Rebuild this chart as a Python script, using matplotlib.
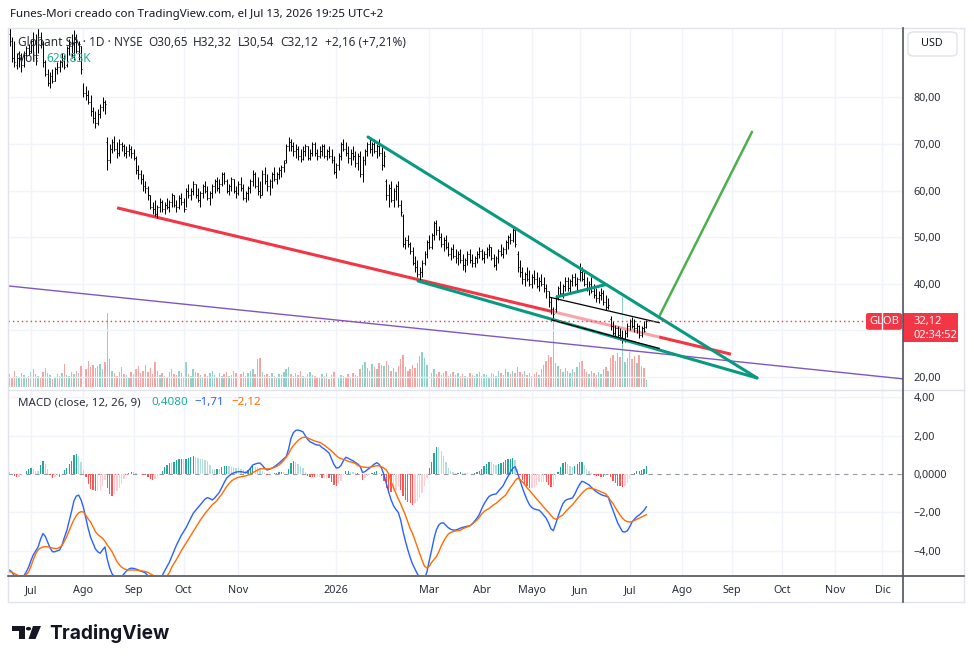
import numpy as np
import matplotlib
matplotlib.use("Agg")
import matplotlib.pyplot as plt
from matplotlib.collections import LineCollection
from matplotlib.patches import FancyBboxPatch, Rectangle, Polygon, Circle

# ---------------- data ----------------
first_bar = -9  # bar index of first visible bar (0 = 1 Jul 2025)

high = [95, 93, 92, 89.5, 90, 89.5, 90, 91, 91.5, 92.5,
        94, 93.5, 95, 94, 92, 88, 86, 85.5, 86, 86.5,
        87.5, 88, 89.5, 89, 91, 92.5, 93.5, 94.5, 93.5, 92,
        91, 83, 82.5, 81.5, 80.5, 78, 77, 77.5, 78.5, 80,
        79.5, 71.5, 70, 71, 71.8, 70.5, 71, 70.5, 70, 69.5,
        70, 69.5, 69, 67.5, 65.5, 64.5, 63.5, 62, 61, 59,
        57.5, 58, 57, 58.5, 58, 57.5, 58.5, 58, 59.5, 59,
        58, 59, 59.5, 58.5, 60.5, 61.5, 60.5, 62, 61.5, 60.5,
        60, 61.5, 62, 61, 60, 61.5, 62.5, 63, 62.5, 64,
        64, 62.5, 61.5, 63, 62.5, 61, 62, 63, 61.5, 60,
        61, 62.5, 64.5, 64, 63, 62, 64.5, 65, 63.5, 62.5,
        64, 65, 64, 65, 65.5, 66.5, 70, 71.6, 71, 70.5,
        70, 69.5, 69, 69.5, 70, 69.5, 69, 70.5, 70.5, 69,
        69.5, 70, 70, 69, 69.5, 69, 67.5, 66, 68, 70.5,
        71, 70.5, 69.5, 69, 69.5, 68.5, 68, 68.5, 67.5, 69,
        70.5, 71.5, 70.5, 71, 70, 71, 69.5, 68.5, 62.5, 61.5,
        62, 60.5, 61.5, 62, 58, 55, 50, 50.5, 49, 48,
        46, 45, 43.5, 45, 47, 49.5, 50.5, 51, 53.5, 53.7,
        52.5, 51, 50, 50.5, 49, 48, 48.5, 47.5, 47, 47.5,
        46.5, 45.5, 47, 47.5, 46.5, 46, 47, 48, 47.5, 47,
        48, 48.5, 48, 46.5, 46, 47.5, 48.5, 48, 49.5, 50.5,
        51, 52, 51.5, 47, 45, 43.5, 42.5, 43.5, 43, 42,
        43, 42.5, 41.5, 42, 41.5, 40, 38.5, 37.2, 35, 37.5,
        39.5, 40.5, 40, 41.5, 41.5, 41, 42, 42.3, 41.5, 44.5,
        43.5, 42.5, 41.5, 40.5, 41.5, 40, 39, 38.5, 39, 38.7,
        37.5, 37, 33, 32, 31.2, 31, 30.5, 30, 30.1, 31.5,
        32.5, 32.9, 32.5, 31.5, 31.2, 31, 32, 32.32]

low = [91, 87.5, 86.5, 86, 86.5, 85.5, 86.5, 88, 89, 89.5,
       88, 87, 89.5, 90.5, 86.5, 84.5, 82.5, 82, 83, 83.5,
       85, 85.5, 86.5, 86, 86.5, 89, 88.5, 88, 89.5, 88,
       85, 80, 79.5, 78.5, 76, 74.5, 73.5, 74, 75.5, 77,
       76.5, 64.5, 66, 68, 68.5, 67, 67.5, 68.5, 67.5, 67,
       67.5, 67, 66.5, 63.5, 62.5, 61.5, 60, 59.5, 58, 56,
       55, 54.5, 54.2, 55.5, 55.5, 55, 56, 55.5, 56.5, 56.5,
       55.5, 56, 57, 55.5, 56.5, 58.5, 58, 59, 58.5, 57.5,
       56.5, 58.5, 59.5, 58, 57, 58.5, 59.5, 60, 59.5, 61,
       61.5, 59.5, 59, 60, 59.5, 58.5, 59, 60, 58, 57.5,
       58, 59.5, 61, 60.5, 59, 58.5, 59, 61.5, 60, 59,
       60.5, 62, 61.5, 62.5, 63, 64, 66, 68.5, 68.5, 67.5,
       67, 66.5, 66.2, 66.5, 67.5, 66.5, 66.5, 67.5, 67.5, 66.5,
       67, 67.5, 67, 66.5, 67, 66, 63.5, 62.7, 64.5, 66.5,
       68.5, 67.5, 66, 65.5, 66.5, 65, 64.5, 63, 61.8, 65.5,
       67.5, 68, 67.5, 68, 67, 67.5, 64.5, 65, 58, 56.5,
       57.5, 56.5, 58, 56.5, 54.5, 47.8, 47.5, 48, 46.5, 44,
       42.5, 41.5, 40.4, 41.5, 44, 45.5, 47.5, 47.5, 49.5, 50.5,
       49.5, 48, 47, 47.5, 46, 45, 45.5, 44.5, 44, 44.5,
       43, 42.5, 44, 44.5, 43.5, 43.5, 44.5, 45.5, 45, 44.5,
       45.5, 46, 45, 43.5, 43, 44.5, 46, 45.5, 46.5, 47.5,
       48.5, 49, 48, 42.5, 41.5, 40, 39.5, 40.5, 39.5, 39,
       40, 39, 38.5, 39.5, 38.2, 37, 35, 33.5, 32.2, 34,
       36.5, 37.5, 37, 38.5, 38.5, 38, 39.5, 39.5, 38.5, 40.5,
       40.5, 39.5, 38.5, 37.5, 38, 37, 36, 35.9, 36.5, 35.5,
       34.4, 34.5, 30, 29, 28.5, 28.5, 27.9, 27.3, 27.5, 28.5,
       30, 30.5, 29.7, 29.5, 28.4, 28.5, 29.7, 30.54]

close = [92.5, 88.5, 87.5, 88.5, 89, 87, 89.5, 90.5, 89.5, 92,
         89, 88.5, 93, 91.5, 87.5, 85, 83, 84.5, 83.5, 86,
         86.5, 87.5, 88.5, 86.5, 90.5, 91, 89, 92.5, 90, 91.5,
         86, 81, 80.5, 79, 77, 75.5, 74.5, 76.5, 78, 79,
         78.5, 66.5, 69, 70.5, 69, 68, 70, 69.5, 68, 68.5,
         69, 68, 67, 64.5, 63.5, 62.5, 61, 60.5, 59, 56.5,
         56, 55, 56.5, 57.5, 56, 57, 56.5, 57.5, 59, 57,
         56.5, 58.5, 57.5, 56, 60, 59, 60, 61.5, 59, 58,
         59.5, 61, 60, 58.5, 59.5, 61, 62, 60.5, 61.5, 63.5,
         62, 60, 61, 62.5, 60, 59.5, 61.5, 60.5, 58.5, 59.5,
         60.5, 62, 63.5, 61, 60, 59, 63.5, 62, 61, 62,
         63.5, 62.5, 63.5, 64.5, 65, 66, 69.5, 70.5, 69.5, 68.5,
         69, 67.5, 66.8, 68.5, 69.5, 67, 68, 70, 68, 67.5,
         68.5, 69.5, 67.5, 68.5, 67.5, 66.5, 64, 65.5, 67.5, 70,
         69, 68, 67, 68, 67.5, 66, 67.5, 63.5, 66.5, 68.5,
         70, 69, 70, 68.5, 69.5, 68, 65.5, 67.5, 59, 60.5,
         58, 60, 61, 57, 55.5, 48.5, 49.5, 48.5, 47, 44.5,
         43.5, 42, 42.5, 44.5, 46.5, 49, 48, 50.5, 53, 51.5,
         50, 48.5, 49.5, 48, 46.5, 47.5, 46, 45.5, 46.5, 45,
         44, 45, 46.5, 45, 44.5, 45.5, 46.5, 47, 45.5, 46.5,
         47.5, 48, 45.5, 44, 45.5, 47, 46.5, 47.5, 49, 50,
         49.5, 51.5, 48.5, 43.5, 42.5, 41, 42, 41, 40, 41.5,
         41, 39.5, 40.5, 40, 39, 38.5, 36, 34.5, 33.5, 37,
         39, 38, 39.5, 40.5, 39, 40.5, 41.5, 40, 41, 42.5,
         41, 40, 39, 40, 38.5, 37.5, 37, 37.5, 38, 36,
         35, 35.5, 31, 29.5, 30.5, 29, 28.5, 28, 29.5, 31,
         32, 31, 30.5, 31, 29, 30.5, 29.96, 32.12]

opens = [93.5, 92, 88.5, 87, 88.5, 89, 87, 89, 90.5, 90,
         92, 89, 89, 93, 91.5, 87.5, 85, 83, 84.5, 83.5,
         86, 86.5, 87.5, 88.5, 87, 90.5, 91, 89, 92.5, 90,
         91, 82.5, 81, 80.5, 79, 77, 75.5, 74.5, 76.5, 78,
         79, 70.5, 66.5, 69, 70.5, 69, 68, 70, 69.5, 68,
         68.5, 69, 68, 67, 64.5, 63.5, 62.5, 61, 60.5, 59,
         56.5, 56, 55, 56.5, 57.5, 56, 57, 56.5, 57.5, 59,
         57, 56.5, 58.5, 57.5, 56, 60, 59, 60, 61.5, 59,
         58, 59.5, 61, 60, 58.5, 59.5, 61, 62, 60.5, 61.5,
         63.5, 62, 60, 61, 62.5, 60, 59.5, 61.5, 60.5, 58.5,
         59.5, 60.5, 62, 63.5, 61, 60, 59, 63.5, 62, 61,
         62, 63.5, 62.5, 63.5, 64.5, 65, 66.5, 69.5, 70.5, 69.5,
         68.5, 69, 67.5, 66.8, 68.5, 69.5, 67, 68, 70, 68,
         67.5, 68.5, 69.5, 67.5, 68.5, 67.5, 66.5, 64, 65.5, 67.5,
         70, 69, 68, 67, 68, 67.5, 66, 67.5, 63.5, 66.5,
         68.5, 70, 69, 70, 68.5, 69.5, 68, 65.5, 62, 59,
         60.5, 58, 60, 61, 57, 54.5, 48.5, 49.5, 48.5, 47,
         44.5, 43.5, 42, 42.5, 44.5, 46.5, 49, 48, 50.5, 53,
         51.5, 50, 48.5, 49.5, 48, 46.5, 47.5, 46, 45.5, 46.5,
         45, 44, 45, 46.5, 45, 44.5, 45.5, 46.5, 47, 45.5,
         46.5, 47.5, 48, 45.5, 44, 45.5, 47, 46.5, 47.5, 49,
         50, 49.5, 51.5, 46.5, 43.5, 42.5, 41, 42, 41, 40,
         41.5, 41, 39.5, 40.5, 40, 39, 38.5, 36, 32.6, 34.5,
         37, 39, 38, 39.5, 40.5, 39, 40.5, 41.5, 40, 41,
         42.5, 41, 40, 39, 40, 38.5, 37.5, 37, 37.5, 38,
         36, 35, 32.5, 31, 29.5, 30.5, 29, 27.5, 28, 29.5,
         31, 32, 31, 30.5, 31, 29, 30.5, 30.65]

volume_m = [1.2, 0.9, 1.5, 1.0, 0.8, 1.3, 1.1, 0.9, 1.0, 1.4,
            1.6, 1.2, 1.0, 0.9, 1.4, 1.7, 1.3, 1.1, 0.7, 0.9,
            1.2, 1.0, 1.3, 2.1, 1.1, 1.0, 1.4, 1.2, 1.5, 1.3,
            1.9, 2.2, 1.6, 2.4, 1.8, 2.0, 1.7, 1.9, 2.1, 1.6,
            2.3, 6.7, 2.5, 1.5, 1.3, 1.0, 1.4, 1.8, 1.2, 1.1,
            0.9, 1.4, 1.2, 1.6, 1.9, 1.3, 1.5, 2.0, 1.4, 1.7,
            1.2, 2.3, 1.5, 1.1, 1.3, 1.0, 0.9, 1.4, 1.6, 1.2,
            1.1, 1.5, 1.3, 0.9, 2.3, 1.2, 1.0, 1.6, 1.4, 1.3,
            1.1, 0.9, 1.2, 1.0, 1.3, 1.5, 1.1, 0.9, 1.3, 1.0,
            1.2, 1.4, 1.0, 1.1, 1.5, 1.3, 1.0, 1.2, 1.4, 1.0,
            1.3, 1.5, 1.6, 1.2, 2.5, 2.6, 1.4, 1.1, 1.2, 1.0,
            1.3, 1.0, 0.9, 1.2, 1.1, 1.4, 1.6, 1.8, 1.2, 1.0,
            1.3, 1.1, 1.5, 1.0, 0.9, 1.2, 1.4, 1.1, 1.0, 0.8,
            0.9, 1.2, 1.0, 1.3, 0.7, 1.1, 1.4, 1.2, 0.9, 1.1,
            1.0, 0.8, 1.2, 0.9, 1.3, 1.1, 1.0, 1.6, 2.0, 2.3,
            1.7, 1.5, 2.1, 1.8, 1.6, 2.2, 2.0, 1.9, 2.4, 2.0,
            1.5, 1.7, 1.4, 1.9, 2.5, 2.9, 1.8, 1.5, 1.6, 2.0,
            1.7, 2.2, 2.8, 3.2, 2.6, 2.0, 1.5, 1.3, 1.6, 1.2,
            1.4, 1.1, 1.3, 1.5, 1.0, 1.2, 1.4, 1.1, 1.3, 1.0,
            1.2, 1.0, 0.9, 1.3, 1.1, 1.0, 1.2, 1.4, 1.0, 1.2,
            1.1, 0.9, 1.3, 1.2, 1.0, 1.5, 1.3, 1.1, 1.6, 1.4,
            1.2, 1.5, 1.3, 1.8, 1.4, 1.2, 1.5, 1.1, 1.3, 1.0,
            1.2, 1.4, 1.1, 1.6, 2.0, 2.4, 2.9, 2.7, 6.0, 2.2,
            1.9, 1.6, 1.4, 1.7, 1.5, 1.3, 1.6, 1.4, 1.8, 2.3,
            2.4, 1.6, 1.4, 1.2, 1.5, 1.3, 1.1, 1.4, 1.2, 1.6,
            1.8, 1.5, 2.6, 2.9, 2.4, 3.1, 2.7, 8.1, 2.3, 2.6,
            3.2, 2.5, 2.8, 2.2, 2.9, 1.9, 1.7, 0.63]

macd_line = [-5.0, -5.1, -5.3, -5.4, -5.45, -5.45, -5.3, -5.1, -4.85, -4.5,
             -4.2, -4.0, -3.8, -3.4, -3.1, -3.25, -3.55, -3.85, -4.05, -4.05,
             -4.0, -3.96, -3.7, -3.3, -2.95, -2.45, -1.95, -1.4, -1.15, -1.1,
             -1.35, -1.75, -2.3, -2.85, -3.3, -3.6, -3.9, -4.05, -4.13, -3.95,
             -3.8, -4.45, -4.9, -5.2, -5.35, -5.45, -5.45, -5.35, -5.2, -5.05,
             -4.95, -4.9, -4.92, -4.95, -5.0, -5.05, -5.1, -5.15, -5.3, -5.45,
             -5.55, -5.6, -5.6, -5.5, -5.3, -5.05, -4.82, -4.6, -4.3, -4.0,
             -3.7, -3.45, -3.2, -3.0, -2.8, -2.55, -2.3, -2.05, -1.9, -1.75,
             -1.6, -1.45, -1.3, -1.23, -1.28, -1.35, -1.25, -1.1, -0.95, -0.7,
             -0.45, -0.22, -0.1, 0.0, 0.06, 0.1, 0.12, 0.12, 0.1, 0.06,
             0.15, 0.3, 0.47, 0.52, 0.56, 0.57, 0.45, 0.3, 0.21, 0.25,
             0.3, 0.38, 0.47, 0.57, 0.68, 0.8, 0.9, 1.3, 1.85, 2.15,
             2.27, 2.29, 2.25, 2.2, 2.0, 1.8, 1.68, 1.62, 1.55, 1.51,
             1.5, 1.38, 1.3, 1.2, 1.09, 0.8, 0.5, 0.31, 0.33, 0.45,
             0.7, 0.87, 0.82, 0.75, 0.69, 0.6, 0.52, 0.4, 0.08, 0.12,
             0.22, 0.31, 0.42, 0.52, 0.59, 0.5, 0.3, -0.05, -0.5, -0.95,
             -1.35, -1.65, -1.85, -2.0, -2.4, -3.0, -3.5, -3.95, -4.35, -4.7,
             -4.95, -5.2, -5.4, -5.5, -5.45, -5.1, -4.5, -3.95, -3.35, -2.9,
             -2.65, -2.55, -2.55, -2.68, -2.8, -2.88, -2.92, -2.92, -2.88, -2.82,
             -2.78, -2.75, -2.72, -2.7, -2.6, -2.45, -2.3, -2.1, -1.8, -1.55,
             -1.35, -1.17, -1.1, -1.06, -1.04, -0.9, -0.75, -0.6, -0.35, -0.12,
             0.1, 0.3, 0.38, 0.05, -0.31, -0.7, -1.05, -1.35, -1.6, -1.75,
             -1.82, -1.86, -1.88, -2.0, -2.15, -2.3, -2.55, -2.85, -2.95, -2.6,
             -2.2, -1.85, -1.55, -1.38, -1.32, -1.28, -1.25, -1.05, -0.78, -0.55,
             -0.38, -0.42, -0.5, -0.57, -0.7, -0.82, -0.92, -1.0, -1.07, -1.12,
             -1.15, -1.2, -1.55, -1.88, -2.2, -2.55, -2.78, -3.0, -3.02, -2.96,
             -2.75, -2.5, -2.35, -2.22, -2.14, -2.02, -1.9, -1.71]

signal_line = [-5.08, -5.12, -5.18, -5.25, -5.3, -5.32, -5.3, -5.25, -5.1, -4.8,
               -4.45, -4.15, -3.95, -3.85, -3.8, -3.78, -3.79, -3.82, -3.86, -3.88,
               -3.88, -3.82, -3.72, -3.5, -3.25, -2.95, -2.65, -2.38, -2.17, -2.02,
               -1.96, -1.98, -2.15, -2.35, -2.5, -2.75, -3.0, -3.15, -3.25, -3.35,
               -3.5, -3.7, -3.87, -4.05, -4.3, -4.55, -4.72, -4.85, -4.93, -4.98,
               -5.0, -5.0, -5.0, -5.0, -5.02, -5.04, -5.06, -5.08, -5.12, -5.2,
               -5.26, -5.35, -5.4, -5.45, -5.45, -5.4, -5.3, -5.15, -4.85, -4.65,
               -4.45, -4.22, -4.0, -3.8, -3.6, -3.4, -3.2, -3.0, -2.8, -2.6,
               -2.4, -2.22, -2.05, -1.9, -1.75, -1.6, -1.5, -1.38, -1.2, -1.05,
               -0.85, -0.66, -0.5, -0.37, -0.28, -0.22, -0.17, -0.15, -0.12, -0.1,
               -0.06, 0.0, 0.07, 0.14, 0.2, 0.26, 0.28, 0.27, 0.26, 0.27,
               0.3, 0.34, 0.4, 0.47, 0.58, 0.72, 0.88, 1.05, 1.3, 1.48,
               1.62, 1.75, 1.85, 1.9, 1.92, 1.88, 1.82, 1.77, 1.72, 1.68,
               1.65, 1.58, 1.5, 1.4, 1.3, 1.2, 1.08, 0.96, 0.85, 0.8,
               0.76, 0.72, 0.66, 0.63, 0.6, 0.55, 0.45, 0.4, 0.37, 0.35,
               0.34, 0.35, 0.38, 0.41, 0.43, 0.43, 0.38, 0.3, 0.21, 0.0,
               -0.4, -0.7, -1.0, -1.3, -1.55, -1.85, -2.15, -2.5, -2.85, -3.1,
               -3.45, -3.8, -4.15, -4.5, -4.8, -4.9, -4.8, -4.6, -4.45, -4.3,
               -4.05, -3.75, -3.5, -3.3, -3.12, -3.05, -3.0, -2.97, -2.95, -2.93,
               -2.85, -2.8, -2.75, -2.7, -2.6, -2.5, -2.4, -2.25, -2.08, -1.95,
               -1.87, -1.8, -1.7, -1.6, -1.53, -1.42, -1.3, -1.2, -1.1, -0.9,
               -0.7, -0.55, -0.35, -0.22, -0.28, -0.4, -0.55, -0.72, -0.85, -1.0,
               -1.15, -1.3, -1.44, -1.58, -1.73, -1.87, -2.0, -2.15, -2.3, -2.36,
               -2.3, -2.2, -2.14, -1.98, -1.85, -1.72, -1.61, -1.45, -1.3, -1.15,
               -1.0, -0.88, -0.78, -0.73, -0.75, -0.78, -0.82, -0.87, -0.93, -0.98,
               -1.04, -1.2, -1.38, -1.53, -1.75, -1.95, -2.14, -2.3, -2.42, -2.48,
               -2.5, -2.48, -2.42, -2.36, -2.3, -2.24, -2.18, -2.12]

month_bars = [0, 22, 43, 64, 87, 128, 167, 189, 210, 230, 251, 273, 294, 315, 337, 357]
month_labels = ["Jul", "Ago", "Sep", "Oct", "Nov", "2026", "Mar", "Abr", "Mayo",
                "Jun", "Jul", "Ago", "Sep", "Oct", "Nov", "Dic"]

price_ticks = [20, 40, 50, 60, 70, 80]
price_grid = [20, 30, 40, 50, 60, 70, 80]
macd_ticks = [4, 2, 0, -2, -4]
macd_tick_labels = ["4,00", "2,00", "0,0000", "\u22122,00", "\u22124,00"]
last_close = 32.12

# drawings: (bar index, price) anchors
red_trend = [(36.1, 56.3), (293.5, 24.9)]
wedge_upper = [(141.3, 71.5), (304.4, 19.8)]
wedge_lower = [(162.3, 40.6), (304.4, 19.8)]
flag_line = [(220.5, 37.2), (241.1, 39.85)]
channel_upper = [(217.6, 37.1), (263.4, 31.65)]
channel_lower = [(218.3, 32.25), (263.4, 26.15)]
projection = [(263.7, 33.3), (302.3, 72.6)]
purple_line = [(-9.64, 39.55), (365.6, 19.6)]

# ---------------- figure ----------------
W, H = 974, 663
plt.rcParams['font.family'] = ['Noto Sans', 'DejaVu Sans']
fig = plt.figure(figsize=(W / 100, H / 100), dpi=100)
fig.patch.set_facecolor('white')

TXT = '#131722'
GRID = '#f0f3fa'


def px_axes(l, t, r, b):
    return fig.add_axes([l / W, 1 - b / H, (r - l) / W, (b - t) / H])


def ftext(x, y, s, **kw):
    kw.setdefault('va', 'center')
    return fig.text(x / W, 1 - y / H, s, **kw)


XLIM = ((8 - 31) / 2.385, (903 - 31) / 2.385)
ax = px_axes(8, 28, 903, 390)
axm = px_axes(8, 390, 903, 575)
for a in (ax, axm):
    a.set_xlim(*XLIM)
    a.set_facecolor('none')
    for s in a.spines.values():
        s.set_visible(False)
    for xb in month_bars:
        a.axvline(xb, color=GRID, lw=1, zorder=0)

ax.set_ylim(17.21, 94.89)
axm.set_ylim(-5.26, 4.375)

idx = np.arange(first_bar, first_bar + len(close))
o = np.array(opens); h = np.array(high); l = np.array(low); c = np.array(close)

for g in price_grid:
    ax.axhline(g, color=GRID, lw=1, zorder=0)

# volume on twin axis
axv = ax.twinx()
axv.set_ylim(-0.25, 32.35)
axv.set_xlim(*XLIM)
axv.axis('off')
up = c >= o
vcol = np.where(up, '#8fd1c6', '#f6a3a2')
axv.bar(idx, volume_m, width=0.6, color=vcol, linewidth=0, zorder=1)

# red trend line (under the channel fill)
ax.plot(*zip(*red_trend), color='#f23645', lw=2.2, zorder=2, solid_capstyle='butt')
# channel translucent fill
chan = Polygon([channel_upper[0], channel_upper[1], channel_lower[1], channel_lower[0]],
               closed=True, facecolor='white', alpha=0.55, edgecolor='none', zorder=2.5)
ax.add_patch(chan)
ax.set_zorder(axv.get_zorder() + 1)
ax.patch.set_visible(False)

# OHLC bars
segs = []
for i in range(len(c)):
    x = idx[i]
    segs.append([(x, l[i]), (x, h[i])])
    segs.append([(x - 0.4, o[i]), (x, o[i])])
    segs.append([(x, c[i]), (x + 0.4, c[i])])
ax.add_collection(LineCollection(segs, colors='#000000', linewidths=0.72, zorder=4))

# drawings
ax.plot(*zip(*purple_line), color='#7e57c2', lw=1.0, zorder=3)
ax.plot(*zip(*wedge_upper), color='#089981', lw=2.2, zorder=5, solid_capstyle='round')
ax.plot(*zip(*wedge_lower), color='#089981', lw=2.2, zorder=5, solid_capstyle='round')
ax.plot(*zip(*flag_line), color='#089981', lw=2.2, zorder=5, solid_capstyle='round')
ax.plot(*zip(*channel_upper), color='#000000', lw=0.9, zorder=5)
ax.plot(*zip(*channel_lower), color='#000000', lw=0.9, zorder=5)
ax.plot(*zip(*projection), color='#4caf50', lw=1.8, zorder=5, solid_capstyle='round')
ax.axhline(last_close, color='#f23645', lw=1.0, ls=(0, (1, 2.2)), zorder=5)

# right price scale
ax.yaxis.tick_right()
ax.set_yticks(price_ticks)
ax.set_yticklabels([f"{v:.2f}".replace('.', ',') for v in price_ticks])
ax.tick_params(axis='y', length=0, pad=7.5, labelsize=7.8, labelcolor='#2a2e39')
ax.tick_params(axis='x', bottom=False, labelbottom=False)

# MACD pane
m = np.array(macd_line); sg = np.array(signal_line)
hist = m - sg
prev = np.concatenate([[hist[0]], hist[:-1]])
hcol = np.where(hist >= 0, np.where(hist > prev, '#26a69a', '#b2dfdb'),
                np.where(hist < prev, '#ff5252', '#ffcdd2'))
for g in [4, 2, -2, -4]:
    axm.axhline(g, color=GRID, lw=1, zorder=0)
axm.axhline(0, color='#9598a1', lw=0.8, ls=(0, (4, 4)), zorder=1)
axm.bar(idx, hist, width=0.55, color=hcol, linewidth=0, zorder=2)
axm.plot(idx, m, color='#2962ff', lw=1.0, zorder=3)
axm.plot(idx, sg, color='#ff6d00', lw=1.0, zorder=3)
axm.yaxis.tick_right()
axm.set_yticks(macd_ticks)
axm.set_yticklabels(macd_tick_labels)
axm.tick_params(axis='y', length=0, pad=7.5, labelsize=7.8, labelcolor='#2a2e39')
axm.set_xticks(month_bars)
axm.set_xticklabels(month_labels)
axm.tick_params(axis='x', length=0, pad=7, labelsize=7.8, labelcolor='#2a2e39')
for t in axm.get_xticklabels():
    if t.get_text() == '2026':
        t.set_fontweight('bold')

# frame / separators (figure-level lines)
def hline(y, x0, x1, color, lw=1):
    fig.add_artist(plt.Line2D([x0 / W, x1 / W], [1 - y / H, 1 - y / H], color=color, lw=lw))

def vline(x, y0, y1, color, lw=1):
    fig.add_artist(plt.Line2D([x / W, x / W], [1 - y0 / H, 1 - y1 / H], color=color, lw=lw))

hline(27.5, 8, 964, '#e0e3eb')
hline(601.5, 8, 964, '#e0e3eb')
vline(8, 27.5, 601.5, '#e0e3eb')
vline(964, 27.5, 601.5, '#e0e3eb')
hline(389.5, 8, 964, '#e0e3eb')
hline(575.5, 8, 964, '#50535e', lw=1.2)
vline(903, 27.5, 601.5, '#50535e', lw=1.2)

# USD box
fig.add_artist(FancyBboxPatch((908 / W, 1 - 56 / H), 49 / W, 24 / H,
                              boxstyle='round,pad=0,rounding_size=0.006',
                              transform=fig.transFigure, facecolor='white',
                              edgecolor='#e0e3eb', lw=1))
ftext(932, 44, 'USD', ha='center', fontsize=7.8, color=TXT)

# last-price labels
fig.add_artist(FancyBboxPatch((866 / W, 1 - 330 / H), 36 / W, 17 / H,
                              boxstyle='round,pad=0,rounding_size=0.003',
                              transform=fig.transFigure, facecolor='#f23645',
                              edgecolor='none'))
ftext(884, 321.5, 'GLOB', ha='center', fontsize=8.0, color='white', fontweight='bold')
fig.add_artist(Rectangle((903 / W, 1 - 342 / H), 55 / W, 29 / H,
                         transform=fig.transFigure, facecolor='#f23645', edgecolor='none'))
ftext(913, 321, '32,12', ha='left', fontsize=8.0, color='white', fontweight='bold')
ftext(913, 335, '02:34:52', ha='left', fontsize=8.0, color='white')

# header texts
ftext(10, 14, 'Funes-Mori creado con TradingView.com, el Jul 13, 2026 19:25 UTC+2',
      fontsize=8.3, color=TXT)
ftext(18, 42, 'Globant SA \u00b7 1D \u00b7 NYSE', fontsize=8.5, color='#2a2e39')
for xx, s in [(148, 'O30,65'), (193, 'H32,32'), (238, 'L30,54'), (280, 'C32,12'),
              (325, '+2,16 (+7,21%)')]:
    ftext(xx, 42, s, fontsize=8.5, color='#2a2e39')
ftext(18, 58, 'Vol.', fontsize=8.5, color='#2a2e39')
ftext(46, 58, '629,83K', fontsize=8.5, color='#22ab94')
ftext(18, 403, 'MACD (close, 12, 26, 9)', fontsize=8.3, color='#2a2e39')
ftext(151, 403, '0,4080', fontsize=8.3, color='#22ab94')
ftext(194, 403, '\u22121,71', fontsize=8.3, color='#2962ff')
ftext(231, 403, '\u22122,12', fontsize=8.3, color='#ff6d00')

# TradingView logo
def fpoly(pts, **kw):
    fig.add_artist(Polygon([(x / W, 1 - y / H) for x, y in pts], closed=True,
                           transform=fig.transFigure, **kw))

fpoly([(12, 626), (25, 626), (25, 639), (19, 639), (19, 631), (12, 631)], facecolor='#131722', edgecolor='none')
fig.add_artist(Circle((28.5 / W, 1 - 628.7 / H), 2.6 / W, transform=fig.transFigure,
                      facecolor='#131722', edgecolor='none'))
fpoly([(33, 626), (41, 626), (35.5, 639), (28.5, 639)], facecolor='#131722', edgecolor='none')
ftext(49, 639, 'TradingView', va='baseline', ha='left', fontsize=13.8,
      fontweight='bold', color='#131722', family=['Inter', 'DejaVu Sans'])

fig.savefig('out.png', dpi=100, facecolor='white')
